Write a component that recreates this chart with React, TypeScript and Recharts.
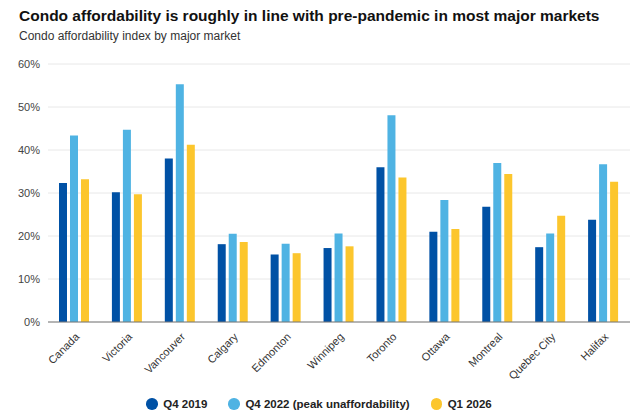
import { ReactElement } from 'react'
import { Bar, BarChart, CartesianGrid, Legend, XAxis, YAxis } from 'recharts'

const markets = [
  'Canada',
  'Victoria',
  'Vancouver',
  'Calgary',
  'Edmonton',
  'Winnipeg',
  'Toronto',
  'Ottawa',
  'Montreal',
  'Quebec City',
  'Halifax',
]
const q4_2019 = [32.3, 30.2, 38.0, 18.1, 15.7, 17.2, 36.0, 21.0, 26.8, 17.4, 23.8]
const q4_2022 = [43.4, 44.7, 55.3, 20.5, 18.2, 20.6, 48.1, 28.4, 37.0, 20.6, 36.7]
const q1_2026 = [33.2, 29.7, 41.2, 18.6, 16.0, 17.6, 33.6, 21.6, 34.4, 24.7, 32.6]
const yTicks = [0, 10, 20, 30, 40, 50, 60]

const series = [
  { key: 'q4_2019', name: 'Q4 2019', color: '#0051a5' },
  { key: 'q4_2022', name: 'Q4 2022 (peak unaffordability)', color: '#4fb3e3' },
  { key: 'q1_2026', name: 'Q1 2026', color: '#fcc62d' },
]

const data = markets.map((name, i) => ({
  name,
  q4_2019: q4_2019[i],
  q4_2022: q4_2022[i],
  q1_2026: q1_2026[i],
}))

const font = '"Liberation Sans", Arial, sans-serif'

function LegendRow(): ReactElement {
  return (
    <div
      style={{
        display: 'flex',
        justifyContent: 'center',
        alignItems: 'center',
        paddingTop: 6,
        paddingLeft: 8,
        fontSize: 11.5,
        fontWeight: 'bold',
        color: '#222',
        fontFamily: font,
      }}
    >
      {series.map((s, i) => (
        <div
          key={s.key}
          style={{ display: 'flex', alignItems: 'center', marginLeft: i ? 21 : 0 }}
        >
          <span
            style={{
              width: 11.5,
              height: 11.5,
              borderRadius: '50%',
              background: s.color,
              display: 'inline-block',
              marginRight: 5.5,
            }}
          />
          <span>{s.name}</span>
        </div>
      ))}
    </div>
  )
}

export default function App(): ReactElement {
  return (
    <div
      style={{
        position: 'absolute',
        top: 0,
        left: 0,
        width: 640,
        height: 420,
        background: '#fff',
        fontFamily: font,
      }}
    >
      <div
        style={{
          position: 'absolute',
          left: 19,
          top: 6.5,
          fontSize: 15.5,
          fontWeight: 'bold',
          color: '#111',
          whiteSpace: 'nowrap',
        }}
      >
        Condo affordability is roughly in line with pre-pandemic in most major markets
      </div>
      <div
        style={{
          position: 'absolute',
          left: 19,
          top: 29.3,
          fontSize: 12,
          color: '#333',
        }}
      >
        Condo affordability index by major market
      </div>
      <BarChart
        width={640}
        height={420}
        data={data}
        margin={{ top: 64, right: 10, bottom: 0, left: 0 }}
        barSize={8}
        barGap={3}
        style={{ fontFamily: font }}
      >
        <CartesianGrid vertical={false} stroke="#e8e8e8" />
        <XAxis
          dataKey="name"
          interval={0}
          height={70}
          tickLine={false}
          axisLine={{ stroke: '#777' }}
          angle={-45}
          textAnchor="end"
          tick={{ fontSize: 11, fill: '#333', dy: 2 }}
        />
        <YAxis
          width={48}
          domain={[0, 60]}
          ticks={yTicks}
          tickFormatter={(v) => `${v}%`}
          axisLine={false}
          tickLine={false}
          tick={{ fontSize: 11, fill: '#444' }}
        />
        <Legend verticalAlign="bottom" height={28} content={() => <LegendRow />} />
        {series.map((s) => (
          <Bar
            key={s.key}
            dataKey={s.key}
            name={s.name}
            fill={s.color}
            isAnimationActive={false}
          />
        ))}
      </BarChart>
    </div>
  )
}
